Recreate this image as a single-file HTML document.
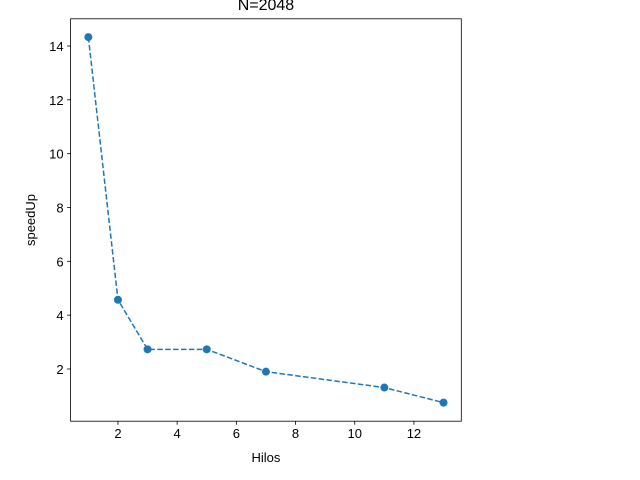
<!DOCTYPE html>
<html><head><meta charset="utf-8"><style>body{margin:0;background:#fff}svg{display:block}text{font-family:"Liberation Sans","DejaVu Sans",sans-serif;fill:#000}</style></head>
<body>
<svg id="chart" width="640" height="480"></svg>
<script>
const hilos = [1, 2, 3, 5, 7, 11, 13];
const speedUp = [14.33, 4.57, 2.73, 2.73, 1.9, 1.31, 0.75];
const xTicks = [2, 4, 6, 8, 10, 12];
const yTicks = [2, 4, 6, 8, 10, 12, 14];
const L=70.6,R=461.3,T=18.8,B=421.2;
const xmin=0.4,xmax=13.6,ymin=0.06,ymax=15.01;
const X=v=>L+(v-xmin)/(xmax-xmin)*(R-L);
const Y=v=>B-(v-ymin)/(ymax-ymin)*(B-T);
const svg=document.getElementById('chart');
const NS='http://www.w3.org/2000/svg';
function mk(tag,attrs,parent){const e=document.createElementNS(NS,tag);for(const k in attrs)e.setAttribute(k,attrs[k]);(parent||svg).appendChild(e);return e;}
const frame=mk('rect',{x:L,y:T,width:R-L,height:B-T,fill:'none',stroke:'#000','stroke-width':0.8});


xTicks.forEach(t=>{
  const l=mk('line',{x1:X(t),x2:X(t),y1:B,y2:B+3.5,stroke:'#000','stroke-width':0.8});
  
  
  const tx=mk('text',{x:X(t),y:B+17,'font-size':13,'text-anchor':'middle'});tx.textContent=t;
  
  
});
yTicks.forEach(t=>{
  const l=mk('line',{x1:L-3.5,x2:L,y1:Y(t),y2:Y(t),stroke:'#000','stroke-width':0.8});
  
  
  const tx=mk('text',{x:L-7,y:Y(t)+5,'font-size':13,'text-anchor':'end'});tx.textContent=t;
  
  
});
const line=mk('polyline',{points:hilos.map((h,i)=>X(h)+','+Y(speedUp[i])).join(' '),fill:'none',stroke:'#1f77b4','stroke-width':1.5,'stroke-dasharray':'5.5,2.4'});


hilos.forEach((h,i)=>{
  const c=mk('circle',{cx:X(h),cy:Y(speedUp[i]),r:4,fill:'#1f77b4'});
  
  
});
const xt=mk('text',{x:(L+R)/2,y:462,'font-size':13,'text-anchor':'middle'});xt.textContent='Hilos';


const yt=mk('text',{x:35,y:(T+B)/2,'font-size':13,'text-anchor':'middle',transform:'rotate(-90 35 '+(T+B)/2+')'});yt.textContent='speedUp';


const ti=mk('text',{x:(L+R)/2,y:10,'font-size':16,'text-anchor':'middle'});ti.textContent='N=2048';


</script>
</body></html>
